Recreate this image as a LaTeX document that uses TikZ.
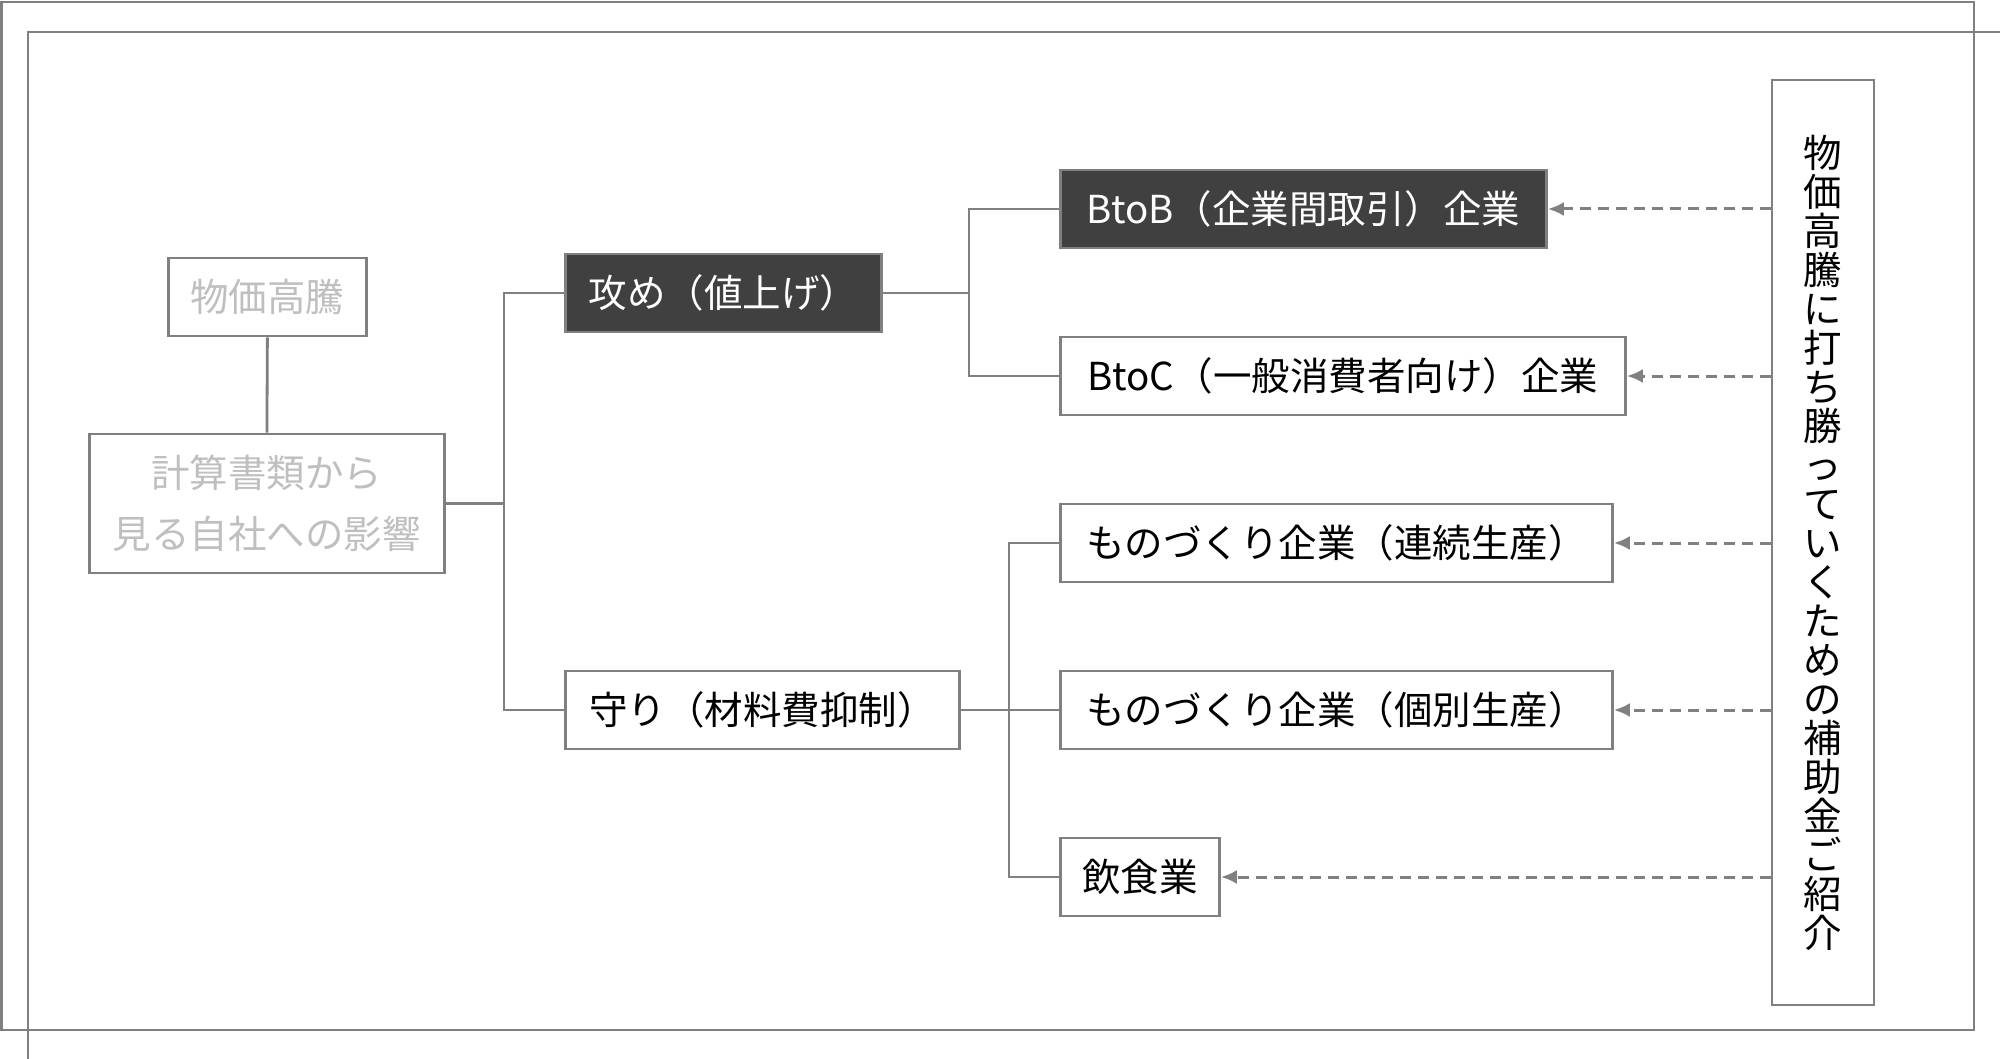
\documentclass[tikz,border=0pt]{standalone}
\usepackage{fontspec}
\setmainfont{Noto Sans CJK JP}
\usetikzlibrary{arrows.meta}
\definecolor{lgray}{HTML}{808080}
\definecolor{ltext}{HTML}{BFBFBF}
\definecolor{dfill}{HTML}{404040}
\tikzset{
  base/.style={draw=lgray, line width=2.8pt, minimum height=78pt, inner sep=0pt,
    font=\fontsize{38.5}{46}\selectfont, anchor=west},
  graybox/.style={base, fill=white, text=ltext},
  darkbox/.style={base, fill=dfill, text=white},
  whitebox/.style={base, fill=white, text=black},
  conn/.style={draw=lgray, line width=2.8pt},
  darr/.style={draw=lgray, line width=3pt, dash pattern=on 11pt off 7pt,
    -{Latex[length=16pt,width=14pt]}},
  frame/.style={draw=lgray, line width=2.8pt}
}
\begin{document}
\begin{tikzpicture}[x=1pt,y=-1pt]
\useasboundingbox (0,0) rectangle (2000,1059);
% frames
\draw[frame] (1.5,2) rectangle (1974,1030);
\draw[frame] (28,1059) -- (28,32) -- (2000,32);
% left nodes
\node[graybox, minimum width=198pt] (bukka) at (167,297) {物価高騰};
\node[graybox, minimum width=355pt, minimum height=139pt, align=center,
  font=\fontsize{38.5}{61}\selectfont] (keisan) at (88,503.5) {計算書類から\\見る自社への影響};
% middle nodes
\node[darkbox, minimum width=316pt] (seme) at (564,293) {攻め（値上げ）};
\node[whitebox, minimum width=394pt] (mamori) at (564,710) {守り（材料費抑制）};
% right nodes
\node[darkbox, minimum width=486pt] (btob) at (1059,209) {BtoB（企業間取引）企業};
\node[whitebox, minimum width=565pt] (btoc) at (1059,376) {BtoC（一般消費者向け）企業};
\node[whitebox, minimum width=552pt] (renzoku) at (1059,543) {ものづくり企業（連続生産）};
\node[whitebox, minimum width=552pt] (kobetsu) at (1059,710) {ものづくり企業（個別生産）};
\node[whitebox, minimum width=159pt] (inshoku) at (1059,877) {飲食業};
% vertical text box
\node[draw=lgray, line width=2.8pt, fill=white, minimum width=102pt, minimum height=925pt,
  inner sep=0pt, align=center, font=\fontsize{38.5}{39}\selectfont] (hojo) at (1823,542.5)
  {物\\価\\高\\騰\\に\\打\\ち\\勝\\っ\\て\\い\\く\\た\\め\\の\\補\\助\\金\\ご\\紹\\介};
% junction points
\coordinate (j1) at (504,503.5);
\coordinate (j2) at (969,293);
\coordinate (j3) at (1009,710);
% connectors
\draw[conn] (bukka.south) -- (keisan.north);
\draw[conn] (keisan.east) -- (j1) |- (seme.west);
\draw[conn] (j1) |- (mamori.west);
\draw[conn] (seme.east) -- (j2) |- (btob.west);
\draw[conn] (j2) |- (btoc.west);
\draw[conn] (mamori.east) -- (j3) |- (renzoku.west);
\draw[conn] (j3) -- (kobetsu.west);
\draw[conn] (j3) |- (inshoku.west);
% dashed arrows
\draw[darr] (hojo.west |- btob.east) -- (btob.east);
\draw[darr] (hojo.west |- btoc.east) -- (btoc.east);
\draw[darr] (hojo.west |- renzoku.east) -- (renzoku.east);
\draw[darr] (hojo.west |- kobetsu.east) -- (kobetsu.east);
\draw[darr] (hojo.west |- inshoku.east) -- (inshoku.east);
\end{tikzpicture}
\end{document}
